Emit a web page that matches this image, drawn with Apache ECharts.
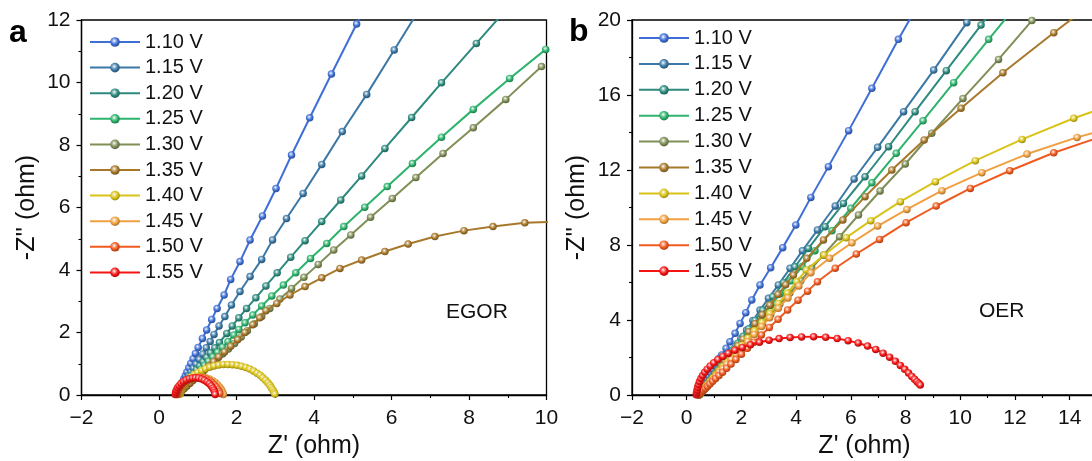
<!DOCTYPE html>
<html>
<head>
<meta charset="utf-8">
<script src="https://cdn.jsdelivr.net/npm/echarts@6/dist/echarts.min.js"></script>
<style>
  html, body { margin: 0; padding: 0; background: #fff; }
  #chart { width: 1092px; height: 461px; }
</style>
</head>
<body>
<div id="chart"></div>
<script>
// Nyquist plots: Z' (ohm) vs -Z'' (ohm) at each applied potential.
const potentials = ['1.10 V', '1.15 V', '1.20 V', '1.25 V', '1.30 V', '1.35 V', '1.40 V', '1.45 V', '1.50 V', '1.55 V'];
const seriesColors = ['#3f6fd6', '#3a78a6', '#2e8a7e', '#2db36c', '#7f8f57', '#a8782a', '#d9c319', '#f0a040', '#f05a1e', '#f51414'];

const xTicksA = [-2, 10, 2];
const yTicksA = [0, 12, 2];
const xTicksB = [-2, 15, 2];
const yTicksB = [0, 20, 4];

// EGOR panel
const egor110 = [[0.48,0.05],[0.51,0.14],[0.54,0.23],[0.57,0.32],[0.60,0.41],[0.64,0.51],[0.68,0.62],[0.72,0.74],[0.77,0.87],[0.82,1.01],[0.88,1.16],[0.94,1.33],[1.01,1.52],[1.12,1.81],[1.23,2.08],[1.36,2.42],[1.50,2.77],[1.68,3.20],[1.85,3.70],[2.09,4.27],[2.35,4.96],[2.67,5.73],[3.02,6.61],[3.42,7.68],[3.89,8.87],[4.45,10.27],[5.10,11.87],[5.60,13.10]];
const egor115 = [[0.48,0.04],[0.51,0.12],[0.55,0.20],[0.59,0.28],[0.63,0.36],[0.67,0.44],[0.72,0.53],[0.77,0.63],[0.83,0.74],[0.89,0.86],[0.96,0.99],[1.04,1.14],[1.13,1.31],[1.22,1.51],[1.32,1.71],[1.42,1.94],[1.55,2.21],[1.70,2.51],[1.87,2.88],[2.09,3.31],[2.35,3.79],[2.65,4.34],[2.93,4.96],[3.29,5.65],[3.72,6.45],[4.20,7.38],[4.73,8.43],[5.36,9.62],[6.07,11.04],[6.70,12.30]];
const egor120 = [[0.48,0.03],[0.52,0.10],[0.56,0.17],[0.61,0.25],[0.66,0.33],[0.71,0.41],[0.77,0.50],[0.83,0.60],[0.90,0.70],[0.97,0.81],[1.05,0.93],[1.14,1.06],[1.23,1.20],[1.33,1.35],[1.44,1.51],[1.56,1.68],[1.75,1.97],[1.89,2.21],[2.06,2.47],[2.26,2.77],[2.50,3.11],[2.76,3.49],[3.05,3.91],[3.40,4.41],[3.77,4.94],[4.20,5.55],[4.69,6.24],[5.23,7.01],[5.83,7.89],[6.52,8.88],[7.29,9.99],[8.19,11.25],[8.90,12.25]];
const egor125 = [[0.48,0.03],[0.53,0.09],[0.58,0.16],[0.64,0.24],[0.70,0.32],[0.77,0.41],[0.84,0.50],[0.92,0.60],[1.00,0.71],[1.09,0.83],[1.18,0.95],[1.28,1.08],[1.39,1.22],[1.51,1.37],[1.64,1.53],[1.78,1.71],[1.93,1.92],[2.06,2.10],[2.22,2.31],[2.42,2.56],[2.65,2.85],[2.91,3.17],[3.21,3.52],[3.53,3.91],[3.91,4.37],[4.33,4.85],[4.77,5.39],[5.31,6.01],[5.89,6.67],[6.54,7.41],[7.29,8.25],[8.11,9.14],[9.05,10.13],[9.98,11.06],[10.40,11.50]];
const egor130 = [[0.48,0.03],[0.53,0.08],[0.58,0.14],[0.64,0.21],[0.71,0.29],[0.78,0.37],[0.86,0.46],[0.95,0.56],[1.04,0.66],[1.14,0.77],[1.25,0.89],[1.37,1.02],[1.50,1.16],[1.64,1.31],[1.79,1.47],[1.95,1.65],[2.12,1.86],[2.28,2.06],[2.46,2.28],[2.65,2.51],[2.86,2.77],[3.12,3.07],[3.42,3.41],[3.74,3.77],[4.11,4.18],[4.51,4.64],[4.95,5.12],[5.46,5.69],[6.02,6.29],[6.63,6.96],[7.33,7.73],[8.11,8.55],[8.95,9.46],[9.87,10.51]];
const egor135 = [[0.48,0.03],[0.53,0.08],[0.59,0.14],[0.65,0.21],[0.72,0.29],[0.80,0.38],[0.88,0.47],[0.97,0.57],[1.07,0.68],[1.17,0.80],[1.29,0.93],[1.41,1.07],[1.54,1.22],[1.69,1.38],[1.85,1.56],[2.03,1.77],[2.22,2.00],[2.42,2.25],[2.60,2.47],[2.76,2.70],[3.04,2.93],[3.38,3.20],[3.77,3.47],[4.20,3.75],[4.67,4.05],[5.23,4.32],[5.83,4.59],[6.43,4.83],[7.12,5.07],[7.87,5.26],[8.62,5.39],[9.44,5.51],[10.30,5.55]];
const egor140 = [[0.55,0.03],[0.56,0.10],[0.58,0.18],[0.61,0.26],[0.65,0.34],[0.70,0.42],[0.76,0.50],[0.83,0.58],[0.91,0.65],[1.00,0.72],[1.10,0.78],[1.20,0.84],[1.31,0.89],[1.42,0.93],[1.54,0.96],[1.66,0.98],[1.78,0.98],[1.90,0.97],[2.02,0.95],[2.13,0.92],[2.24,0.88],[2.34,0.83],[2.44,0.77],[2.53,0.70],[2.61,0.63],[2.68,0.55],[2.75,0.47],[2.81,0.39],[2.86,0.31],[2.90,0.23],[2.94,0.16],[2.97,0.09],[2.99,0.03]];
const egor145 = [[0.50,0.02],[0.51,0.09],[0.53,0.16],[0.56,0.23],[0.60,0.30],[0.65,0.37],[0.71,0.43],[0.78,0.49],[0.86,0.53],[0.94,0.56],[1.03,0.57],[1.12,0.57],[1.21,0.55],[1.30,0.51],[1.38,0.46],[1.45,0.40],[1.51,0.33],[1.56,0.26],[1.60,0.19],[1.63,0.12],[1.65,0.06],[1.66,0.02]];
const egor150 = [[0.46,0.02],[0.47,0.09],[0.49,0.16],[0.52,0.23],[0.56,0.30],[0.61,0.37],[0.67,0.43],[0.74,0.48],[0.82,0.52],[0.90,0.55],[0.99,0.56],[1.08,0.56],[1.16,0.54],[1.24,0.50],[1.31,0.45],[1.37,0.39],[1.43,0.32],[1.48,0.25],[1.52,0.18],[1.55,0.11],[1.57,0.05]];
const egor155 = [[0.42,0.02],[0.43,0.09],[0.45,0.16],[0.48,0.23],[0.52,0.30],[0.57,0.37],[0.63,0.43],[0.70,0.48],[0.78,0.52],[0.86,0.54],[0.94,0.55],[1.02,0.54],[1.10,0.51],[1.17,0.47],[1.24,0.42],[1.30,0.36],[1.35,0.29],[1.39,0.22],[1.42,0.15],[1.44,0.08],[1.45,0.02]];

// OER panel
const oer110 = [[0.42,0.02],[0.46,0.12],[0.50,0.22],[0.54,0.33],[0.58,0.45],[0.63,0.58],[0.68,0.72],[0.74,0.87],[0.80,1.03],[0.87,1.20],[0.94,1.38],[1.02,1.58],[1.11,1.80],[1.19,1.96],[1.28,2.13],[1.44,2.49],[1.58,2.84],[1.77,3.29],[1.95,3.82],[2.16,4.39],[2.38,5.07],[2.68,5.87],[3.07,6.79],[3.51,7.86],[3.99,9.07],[4.54,10.54],[5.18,12.18],[5.92,14.10],[6.77,16.36],[7.74,18.97],[8.30,20.40]];
const oer115 = [[0.44,0.02],[0.49,0.10],[0.54,0.19],[0.60,0.29],[0.66,0.40],[0.73,0.52],[0.80,0.65],[0.88,0.79],[0.97,0.95],[1.06,1.12],[1.16,1.31],[1.28,1.55],[1.43,1.86],[1.60,2.22],[1.78,2.60],[1.98,3.02],[2.19,3.47],[2.42,3.97],[2.68,4.53],[2.99,5.16],[3.35,5.87],[3.78,6.76],[4.23,7.70],[4.78,8.80],[5.43,10.08],[6.12,11.52],[6.98,13.21],[7.93,15.11],[9.03,17.33],[10.24,19.86],[10.60,20.60]];
const oer120 = [[0.45,0.02],[0.50,0.12],[0.56,0.23],[0.62,0.35],[0.69,0.48],[0.77,0.64],[0.85,0.79],[0.94,0.97],[1.04,1.16],[1.15,1.37],[1.27,1.60],[1.40,1.86],[1.54,2.13],[1.70,2.43],[1.87,2.76],[2.06,3.13],[2.27,3.53],[2.50,3.98],[2.78,4.52],[3.15,5.24],[3.54,5.99],[3.96,6.84],[4.45,7.82],[5.06,8.98],[5.73,10.22],[6.52,11.64],[7.38,13.24],[8.35,15.11],[9.49,17.30],[10.76,19.73],[11.00,20.20]];
const oer125 = [[0.46,0.02],[0.51,0.11],[0.57,0.22],[0.63,0.33],[0.70,0.45],[0.78,0.60],[0.87,0.76],[0.97,0.94],[1.08,1.14],[1.20,1.36],[1.33,1.60],[1.48,1.87],[1.64,2.16],[1.82,2.49],[2.02,2.85],[2.24,3.25],[2.49,3.70],[2.77,4.21],[3.08,4.78],[3.42,5.40],[3.80,6.09],[4.22,6.85],[4.69,7.70],[5.31,8.76],[6.00,9.96],[6.77,11.32],[7.66,12.89],[8.64,14.63],[9.76,16.66],[11.04,18.97],[11.90,20.50]];
const oer130 = [[0.47,0.02],[0.52,0.10],[0.58,0.20],[0.64,0.30],[0.71,0.41],[0.79,0.55],[0.88,0.69],[0.98,0.86],[1.09,1.04],[1.21,1.24],[1.34,1.45],[1.49,1.70],[1.65,1.96],[1.83,2.26],[2.03,2.58],[2.25,2.95],[2.50,3.36],[2.77,3.80],[3.07,4.29],[3.40,4.84],[3.77,5.44],[4.17,6.10],[4.57,6.76],[5.00,7.47],[5.59,8.44],[6.28,9.60],[7.07,10.88],[7.99,12.32],[8.96,13.96],[10.10,15.82],[11.40,17.90],[12.62,19.97],[13.00,20.60]];
const oer135 = [[0.46,0.02],[0.51,0.11],[0.56,0.21],[0.62,0.32],[0.69,0.45],[0.77,0.60],[0.85,0.75],[0.94,0.91],[1.04,1.10],[1.15,1.30],[1.27,1.52],[1.40,1.76],[1.54,2.02],[1.70,2.32],[1.87,2.63],[2.06,2.98],[2.27,3.37],[2.50,3.80],[2.76,4.28],[3.04,4.80],[3.34,5.36],[3.62,5.88],[3.90,6.40],[4.39,7.29],[5.00,8.27],[5.71,9.33],[6.52,10.58],[7.50,12.00],[8.68,13.60],[10.03,15.29],[11.56,17.19],[13.42,19.32],[14.30,20.30]];
const oer140 = [[0.46,0.02],[0.51,0.11],[0.57,0.21],[0.63,0.32],[0.70,0.44],[0.78,0.58],[0.87,0.73],[0.97,0.90],[1.08,1.08],[1.20,1.29],[1.33,1.51],[1.48,1.76],[1.64,2.03],[1.82,2.33],[2.02,2.66],[2.24,3.03],[2.48,3.43],[2.75,3.87],[3.04,4.36],[3.35,4.88],[3.68,5.44],[4.02,6.04],[4.37,6.67],[5.02,7.47],[5.83,8.39],[6.73,9.30],[7.81,10.31],[9.09,11.38],[10.55,12.50],[12.26,13.63],[14.15,14.76],[15.40,15.40]];
const oer145 = [[0.45,0.02],[0.50,0.10],[0.56,0.19],[0.62,0.29],[0.69,0.40],[0.77,0.53],[0.86,0.67],[0.96,0.83],[1.07,1.01],[1.19,1.20],[1.32,1.40],[1.47,1.64],[1.63,1.90],[1.81,2.18],[2.01,2.50],[2.23,2.85],[2.47,3.23],[2.74,3.66],[3.03,4.12],[3.35,4.63],[3.70,5.18],[4.10,5.82],[4.54,6.52],[5.22,7.29],[6.04,8.12],[6.98,9.01],[8.05,9.90],[9.33,10.90],[10.79,11.86],[12.44,12.85],[14.27,13.74],[15.40,14.20]];
const oer150 = [[0.44,0.02],[0.49,0.09],[0.55,0.17],[0.61,0.26],[0.68,0.35],[0.76,0.46],[0.85,0.59],[0.95,0.73],[1.06,0.88],[1.18,1.04],[1.31,1.22],[1.46,1.43],[1.62,1.65],[1.80,1.90],[2.00,2.18],[2.22,2.49],[2.46,2.82],[2.73,3.20],[3.02,3.60],[3.34,4.04],[3.69,4.53],[4.07,5.06],[4.42,5.54],[4.78,6.04],[5.43,6.76],[6.20,7.52],[7.05,8.30],[8.02,9.19],[9.12,10.08],[10.37,11.02],[11.81,11.96],[13.42,12.92],[15.40,13.90]];
const oer155 = [[0.35,0.02],[0.36,0.14],[0.38,0.27],[0.40,0.41],[0.43,0.56],[0.47,0.72],[0.52,0.88],[0.58,1.04],[0.66,1.21],[0.75,1.38],[0.86,1.55],[0.99,1.72],[1.14,1.89],[1.32,2.06],[1.52,2.22],[1.76,2.39],[2.03,2.54],[2.33,2.68],[2.66,2.81],[3.01,2.92],[3.38,3.01],[3.78,3.07],[4.20,3.10],[4.64,3.11],[5.08,3.08],[5.50,3.01],[5.90,2.90],[6.27,2.77],[6.61,2.61],[6.91,2.43],[7.18,2.23],[7.42,2.02],[7.63,1.80],[7.81,1.58],[7.97,1.37],[8.11,1.17],[8.23,0.99],[8.33,0.84],[8.42,0.71],[8.49,0.61],[8.54,0.53]];

const egorData = [egor110, egor115, egor120, egor125, egor130, egor135, egor140, egor145, egor150, egor155];
const oerData = [oer110, oer115, oer120, oer125, oer130, oer135, oer140, oer145, oer150, oer155];

const FONT = '"Liberation Sans", Arial, Helvetica, sans-serif';

function shade(hex, f) {
  const n = parseInt(hex.slice(1), 16);
  let r = (n >> 16) & 255, g = (n >> 8) & 255, b = n & 255;
  if (f < 0) { r = r * (1 + f); g = g * (1 + f); b = b * (1 + f); }
  else { r = r + (255 - r) * f; g = g + (255 - g) * f; b = b + (255 - b) * f; }
  return 'rgb(' + Math.round(r) + ',' + Math.round(g) + ',' + Math.round(b) + ')';
}

// shaded ball markers
function ball(c) {
  return {
    type: 'radial', x: 0.42, y: 0.38, r: 0.62,
    colorStops: [
      { offset: 0, color: '#ffffff' },
      { offset: 0.28, color: shade(c, 0.45) },
      { offset: 0.6, color: c },
      { offset: 1, color: shade(c, -0.3) }
    ]
  };
}

const minus = v => String(v).replace('-', '\u2212');

function xAxisCfg(idx, t) {
  return {
    type: 'value', gridIndex: idx, min: t[0], max: t[1], interval: t[2],
    name: "Z' (ohm)", nameLocation: 'middle', nameGap: 38,
    nameTextStyle: { fontFamily: FONT, fontSize: 25, color: '#111' },
    axisLine: { show: true, onZero: false, lineStyle: { color: '#000', width: 1.3 } },
    axisTick: { show: true, inside: false, length: 5, lineStyle: { color: '#000', width: 1.2 } },
    minorTick: { show: true, splitNumber: 2, length: 3, lineStyle: { color: '#000', width: 1.1 } },
    axisLabel: { fontFamily: FONT, fontSize: 21, color: '#111', margin: 13, formatter: minus, showMaxLabel: idx === 0 },
    splitLine: { show: false }
  };
}
function yAxisCfg(idx, t) {
  return {
    type: 'value', gridIndex: idx, min: t[0], max: t[1], interval: t[2],
    name: "-Z'' (ohm)", nameLocation: 'middle', nameGap: 42,
    nameTextStyle: { fontFamily: FONT, fontSize: 25, color: '#111' },
    axisLine: { show: true, onZero: false, lineStyle: { color: '#000', width: 1.3 } },
    axisTick: { show: true, inside: false, length: 5, lineStyle: { color: '#000', width: 1.2 } },
    minorTick: { show: true, splitNumber: 2, length: 3, lineStyle: { color: '#000', width: 1.1 } },
    axisLabel: { fontFamily: FONT, fontSize: 21, color: '#111', margin: 11 },
    splitLine: { show: false }
  };
}

const series = [];
[egorData, oerData].forEach((set, gi) => {
  set.forEach((pts, i) => {
    series.push({
      type: 'line', name: potentials[i], xAxisIndex: gi, yAxisIndex: gi,
      data: pts, symbol: 'circle', symbolSize: 7.5, showSymbol: true,
      lineStyle: { color: seriesColors[i], width: 2 },
      itemStyle: { color: ball(seriesColors[i]) },
      emphasis: { disabled: true }, clip: true, z: 2 + i
    });
  });
});

function legendCfg(left, top, gap) {
  return {
    orient: 'vertical', left: left, top: top, padding: 0, data: potentials,
    itemWidth: 50, itemHeight: 12, itemGap: gap, selectedMode: false,
    textStyle: { fontFamily: FONT, fontSize: 20, color: '#111', lineHeight: 20 }
  };
}

const gridBase = { top: 20, width: 465, height: 375, show: true, borderColor: '#000', borderWidth: 1.3, backgroundColor: 'transparent', outerBoundsMode: 'none', containLabel: false };

const chart = echarts.init(document.getElementById('chart'), null, { renderer: 'canvas' });
chart.setOption({
  animation: false,
  backgroundColor: '#fff',
  grid: [
    Object.assign({ left: 81.5 }, gridBase),
    Object.assign({ left: 632 }, gridBase)
  ],
  xAxis: [xAxisCfg(0, xTicksA), xAxisCfg(1, xTicksB)],
  yAxis: [yAxisCfg(0, yTicksA), yAxisCfg(1, yTicksB)],
  legend: [legendCfg(89, 32, 5.6), legendCfg(638, 28, 5.9)],
  graphic: [
    { type: 'text', left: 9, top: 17, style: { text: 'a', font: 'bold 32px ' + FONT, fill: '#000' } },
    { type: 'text', left: 569, top: 16, style: { text: 'b', font: 'bold 32px ' + FONT, fill: '#000' } },
    { type: 'text', left: 446, top: 302, style: { text: 'EGOR', font: '21px ' + FONT, fill: '#111' } },
    { type: 'text', left: 979, top: 301, style: { text: 'OER', font: '21px ' + FONT, fill: '#111' } }
  ],
  series: series
});
</script>
</body>
</html>
